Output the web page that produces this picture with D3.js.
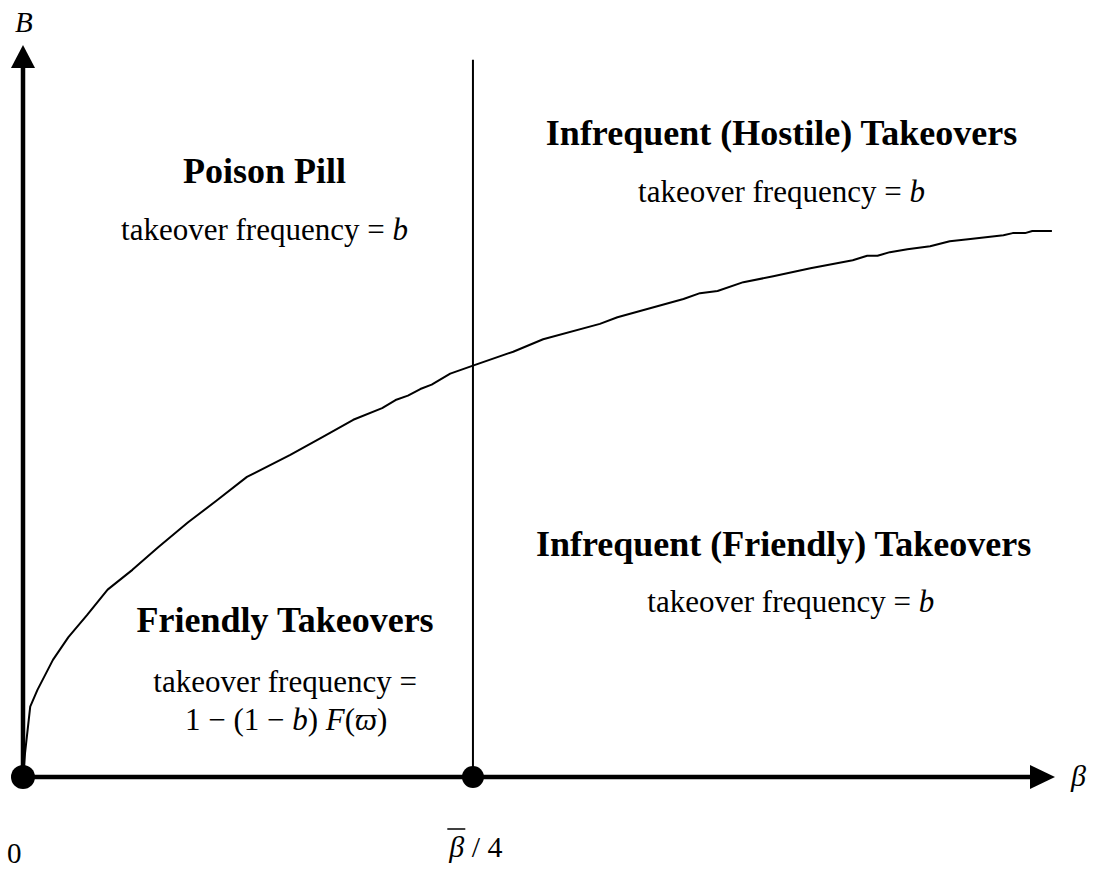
<!DOCTYPE html>
<html>
<head>
<meta charset="utf-8">
<script src="https://cdn.jsdelivr.net/npm/d3@7"></script>
<style>
  html, body { margin: 0; padding: 0; background: #fff; }
  svg { display: block; font-family: "Liberation Serif", "Times New Roman", serif; }
</style>
</head>
<body>
<svg id="chart" width="1102" height="870"></svg>
<script>
// boundary curve B(beta) (axis units 0..100)
const betaVals = [0, 0.2, 0.7, 1.4, 2.9, 4.4, 6.2, 8.2, 10.6, 13.1, 16.0, 18.8, 21.7, 25.9, 29.1, 32.0,
  34.8, 36.1, 37.3, 38.5, 39.6, 41.4, 43.6, 47.5, 50.4, 55.9, 57.6, 64.0, 65.6, 67.3, 69.8, 72.7,
  76.3, 80.4, 81.8, 82.8, 84.0, 85.7, 87.9, 89.8, 91.8, 95.0, 95.9, 97.1, 97.8, 99.7];
const bVals = [0, 3.3, 9.6, 11.9, 16.0, 19.1, 22.1, 25.6, 28.3, 31.4, 34.8, 37.8, 41.0, 44.0, 46.5, 48.8,
  50.4, 51.5, 52.1, 53.0, 53.6, 55.1, 56.2, 58.1, 59.8, 61.9, 62.8, 65.3, 66.1, 66.4, 67.6, 68.4,
  69.5, 70.6, 71.2, 71.2, 71.7, 72.1, 72.5, 73.2, 73.5, 74.0, 74.3, 74.3, 74.6, 74.6];

const threshold = 43.6;      // beta-bar / 4
const thresholdTop = 98;     // top of the vertical divider
const markedBetas = [0, threshold];

const regionTitles = ["Poison Pill", "Infrequent (Hostile) Takeovers", "Infrequent (Friendly) Takeovers", "Friendly Takeovers"];
const regionAnchors = [[23.4, 81.2], [73.5, 86.3], [73.7, 30.2], [25.4, 19.8]];

const svg = d3.select('#chart');
const x = d3.scaleLinear().domain([0, 100]).range([23, 1055]);
const y = d3.scaleLinear().domain([0, 100]).range([777, 45]);

// axes drawn as arrows
const axisW = 4.5;
svg.append('line')
  .attr('x1', x(0)).attr('y1', y(0)).attr('x2', x(0)).attr('y2', y(100) + 20)
  .attr('stroke', '#000').attr('stroke-width', axisW);
svg.append('path')
  .attr('d', `M${x(0)},${y(100)} L${x(0) - 12},${y(100) + 23} L${x(0) + 12},${y(100) + 23} Z`)
  .attr('fill', '#000');

svg.append('line')
  .attr('x1', x(0)).attr('y1', y(0)).attr('x2', x(100) - 20).attr('y2', y(0))
  .attr('stroke', '#000').attr('stroke-width', axisW);
svg.append('path')
  .attr('d', `M${x(100)},${y(0)} L${x(100) - 25},${y(0) - 12} L${x(100) - 25},${y(0) + 12} Z`)
  .attr('fill', '#000');

// vertical divider at beta-bar/4
svg.append('line')
  .attr('x1', x(threshold)).attr('x2', x(threshold))
  .attr('y1', y(0)).attr('y2', y(thresholdTop))
  .attr('stroke', '#000').attr('stroke-width', 2);

// boundary curve
const line = d3.line()
  .x((d, i) => x(betaVals[i]))
  .y((d, i) => y(bVals[i]));
svg.append('path')
  .datum(betaVals)
  .attr('d', line)
  .attr('fill', 'none')
  .attr('stroke', '#000')
  .attr('stroke-width', 2)
  .attr('stroke-linejoin', 'round');

// dots on the axis
svg.selectAll('.dot')
  .data(markedBetas)
  .enter().append('circle')
  .attr('class', 'dot')
  .attr('cx', d => x(d))
  .attr('cy', y(0))
  .attr('r', (d, i) => i === 0 ? 12 : 11)
  .attr('fill', '#000');

// region titles
svg.selectAll('.title')
  .data(regionTitles)
  .enter().append('text')
  .attr('class', 'title')
  .attr('x', (d, i) => x(regionAnchors[i][0]))
  .attr('y', (d, i) => y(regionAnchors[i][1]))
  .attr('text-anchor', 'middle')
  .attr('font-weight', 'bold')
  .attr('font-size', 36)
  .text(d => d);

// "takeover frequency = b" lines
const freqAnchors = [[23.4, 73.4], [73.5, 78.5], [74.4, 22.6]];
freqAnchors.forEach(a => {
  const t = svg.append('text')
    .attr('x', x(a[0])).attr('y', y(a[1]))
    .attr('text-anchor', 'middle')
    .attr('font-size', 31);
  t.append('tspan').text('takeover frequency = ');
  t.append('tspan').attr('font-style', 'italic').text('b');
});

svg.append('text')
  .attr('x', x(25.4)).attr('y', y(11.6))
  .attr('text-anchor', 'middle')
  .attr('font-size', 31)
  .text('takeover frequency =');

const f = svg.append('text')
  .attr('x', x(25.5)).attr('y', y(6.4))
  .attr('text-anchor', 'middle')
  .attr('font-size', 31);
f.append('tspan').text('1 \u2212 (1 \u2212 ');
f.append('tspan').attr('font-style', 'italic').text('b');
f.append('tspan').text(') ');
f.append('tspan').attr('font-style', 'italic').text('F');
f.append('tspan').text('(');
f.append('tspan').attr('font-style', 'italic').text('\u03D6');
f.append('tspan').text(')');

// axis labels
svg.append('text')
  .attr('x', 15).attr('y', 32)
  .attr('font-size', 29).attr('font-style', 'italic')
  .text('B');

svg.append('text')
  .attr('x', 1071).attr('y', 786)
  .attr('font-size', 30).attr('font-style', 'italic')
  .text('\u03B2');

svg.append('text')
  .attr('x', x(0) - 16).attr('y', 863)
  .attr('font-size', 29)
  .text('0');

const tl = svg.append('text')
  .attr('x', x(threshold) + 3).attr('y', 857)
  .attr('text-anchor', 'middle')
  .attr('font-size', 30);
const betaSpan = tl.append('tspan').attr('font-style', 'italic').text('\u03B2');
tl.append('tspan').text(' / 4');
const bb = betaSpan.node().getBBox();
svg.append('line')
  .attr('x1', bb.x - 1).attr('x2', bb.x + bb.width + 1)
  .attr('y1', bb.y - 1).attr('y2', bb.y - 1)
  .attr('stroke', '#000').attr('stroke-width', 1.5);
</script>
</body>
</html>
